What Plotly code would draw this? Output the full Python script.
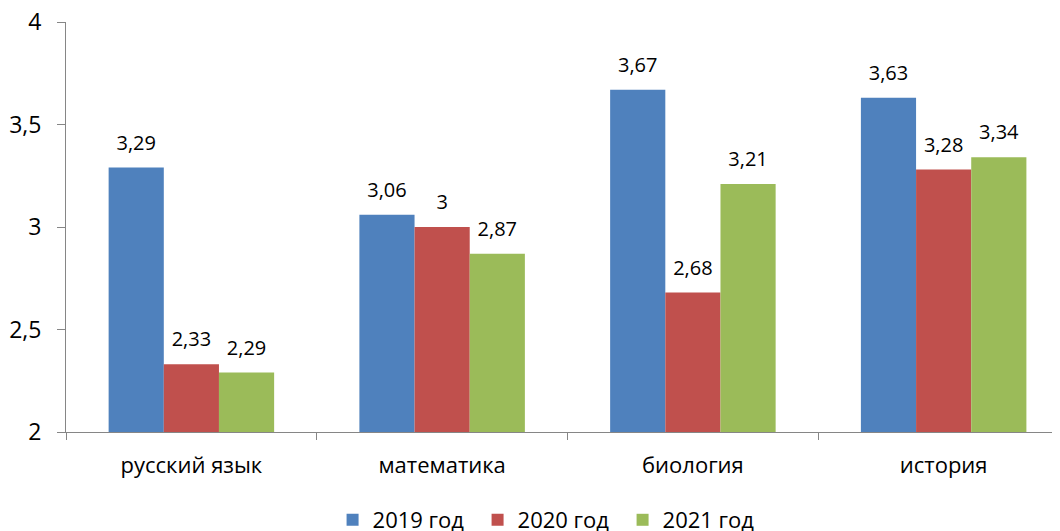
import plotly.graph_objects as go

categories = ["русский язык", "математика", "биология", "история"]
series_names = ["2019 год", "2020 год", "2021 год"]
values_2019 = [3.29, 3.06, 3.67, 3.63]
values_2020 = [2.33, 3.00, 2.68, 3.28]
values_2021 = [2.29, 2.87, 3.21, 3.34]
colors = ["#4F81BD", "#C0504D", "#9BBB59"]
y_ticks = [2, 2.5, 3, 3.5, 4]

FONT = "Open Sans"

def fmt(v):
    return f"{v:g}".replace(".", ",")

fig = go.Figure()
all_series = [values_2019, values_2020, values_2021]
for name, vals, col in zip(series_names, all_series, colors):
    fig.add_trace(go.Bar(
        x=categories, y=vals, name=name,
        marker=dict(color=col, line=dict(width=0)),
        hoverinfo="skip",
    ))
# data labels, grouped the same way as bars
for name, vals in zip(series_names, all_series):
    fig.add_trace(go.Scatter(
        x=categories, y=vals, mode="markers+text",
        text=[fmt(v) for v in vals], textposition="top center",
        textfont=dict(family=FONT, size=20, color="#000000"),
        marker=dict(size=19, opacity=0, color="white"),
        showlegend=False, hoverinfo="skip", cliponaxis=False,
    ))

# the page body has an 8px margin, so the figure is sized to the visible area
fig.update_layout(
    width=1052, height=523,
    barmode="group", bargap=0.34, bargroupgap=0,
    scattermode="group", scattergap=0.34,
    separators=", ",
    plot_bgcolor="white", paper_bgcolor="white",
    margin=dict(l=58, r=0, t=14, b=99, autoexpand=False),
    font=dict(family=FONT, size=18, color="#000000"),
    showlegend=True,
    legend=dict(orientation="h", x=0.487, xanchor="center", y=-0.2146, yanchor="middle",
                font=dict(family=FONT, size=22), traceorder="normal",
                itemwidth=30, entrywidth=100, entrywidthmode="pixels"),
)
fig.update_xaxes(
    type="category", range=[-0.5, 3.464], automargin=False,
    showline=True, linecolor="#868686", linewidth=1,
    ticks="outside", ticklen=7, tickcolor="#868686", tickson="boundaries",
    showgrid=False, tickfont=dict(family=FONT, size=22),
    ticklabelstandoff=14,
)
fig.update_yaxes(
    range=[2, 4], tickvals=y_ticks, automargin=False,
    showline=True, linecolor="#868686", linewidth=1,
    ticks="outside", ticklen=8, tickcolor="#868686",
    showgrid=False, zeroline=False,
    tickfont=dict(family=FONT, size=23),
    ticklabelstandoff=11, ticklabeloverflow="allow",
)

fig.write_html("out.html")
